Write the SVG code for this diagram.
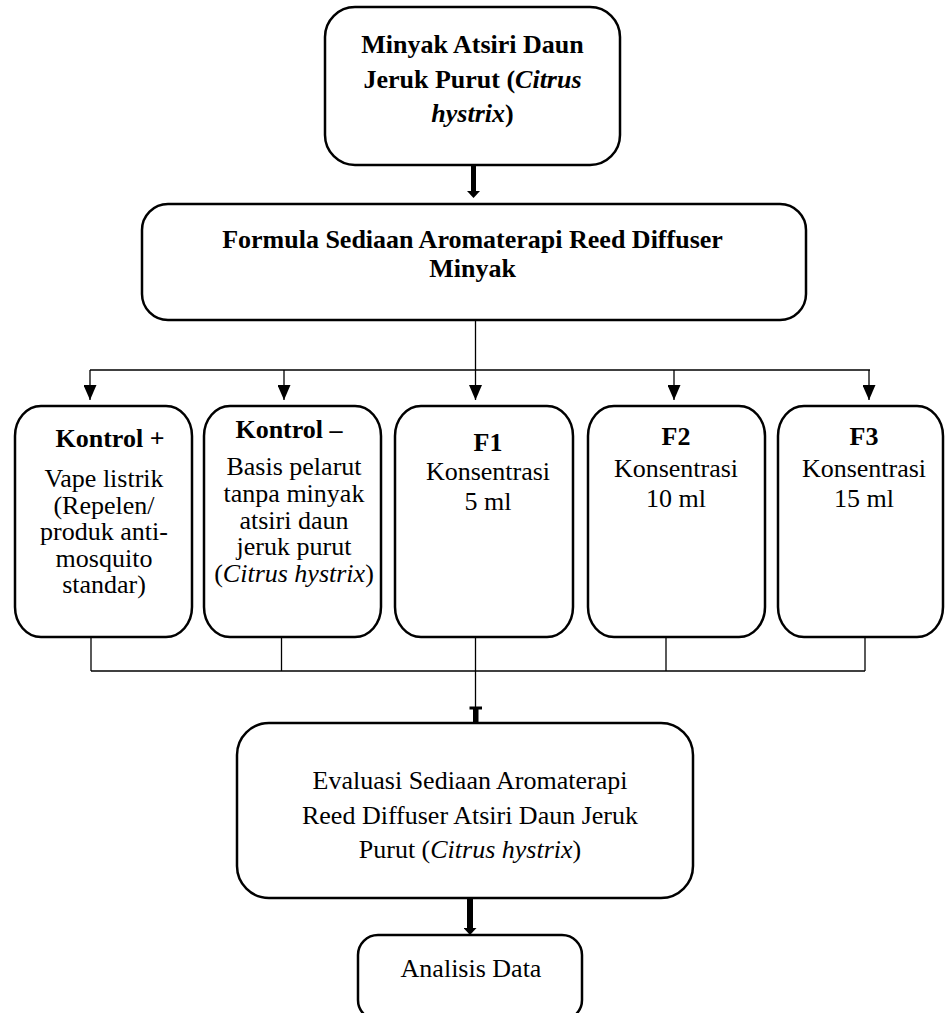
<svg xmlns="http://www.w3.org/2000/svg" width="945" height="1013" viewBox="0 0 945 1013">
<style>
.box{fill:#fff;stroke:#000;stroke-width:2.5}
.t{font-family:"Liberation Serif","Times New Roman",serif;font-size:26px;fill:#000;text-anchor:middle}
.b{font-weight:bold}
.i{font-style:italic}
.c{stroke:#000;stroke-width:1.3;fill:none}
.thick{stroke:#000;fill:none}
</style>
<defs>
<marker id="ah" markerUnits="userSpaceOnUse" markerWidth="15" markerHeight="13" viewBox="0 0 15 13" refX="15" refY="6.5" orient="auto">
<path d="M0,0 L15,6.5 L0,13 z" fill="#000"/>
</marker>
<marker id="hd" markerUnits="userSpaceOnUse" markerWidth="7" markerHeight="13" viewBox="0 0 7 13" refX="0" refY="6.5" orient="auto">
<path d="M0,0 L7,6.5 L0,13 z" fill="#000"/>
</marker>
</defs>
<rect width="945" height="1013" fill="#fff"/>

<g id="connectors">
<line class="thick" x1="473.5" y1="166" x2="473.5" y2="191" stroke-width="5" marker-end="url(#hd)"/>
<line class="c" x1="475.5" y1="321" x2="475.5" y2="370"/>
<line class="c" x1="90" y1="370" x2="870" y2="370"/>
<line class="c" x1="90" y1="370" x2="90" y2="400" marker-end="url(#ah)"/>
<line class="c" x1="284" y1="370" x2="284" y2="400" marker-end="url(#ah)"/>
<line class="c" x1="475.5" y1="370" x2="475.5" y2="400" marker-end="url(#ah)"/>
<line class="c" x1="674" y1="370" x2="674" y2="400" marker-end="url(#ah)"/>
<line class="c" x1="869" y1="370" x2="869" y2="400" marker-end="url(#ah)"/>
<line class="c" x1="91" y1="638" x2="91" y2="671"/>
<line class="c" x1="281.5" y1="638" x2="281.5" y2="671"/>
<line class="c" x1="475.5" y1="638" x2="475.5" y2="671"/>
<line class="c" x1="666" y1="638" x2="666" y2="671"/>
<line class="c" x1="865" y1="638" x2="865" y2="671"/>
<line class="c" x1="91" y1="671" x2="865" y2="671"/>
<line class="c" x1="475.5" y1="671" x2="475.5" y2="708"/>
<rect x="469.5" y="706.5" width="12.5" height="3" fill="#000"/>
<rect x="473" y="708" width="5.5" height="15" fill="#000"/>
<line class="thick" x1="470" y1="898" x2="470" y2="928" stroke-width="6" marker-end="url(#hd)"/>
</g>

<g id="n-minyak">
<rect class="box" x="325" y="7" width="295" height="158" rx="30" ry="30"/>
<text class="t b" x="472.5" y="53" font-size="26.5">Minyak Atsiri Daun</text>
<text class="t b" x="472.5" y="88" font-size="26.5">Jeruk Purut (<tspan class="i">Citrus</tspan></text>
<text class="t b" x="472.5" y="122" font-size="26.5"><tspan class="i">hystrix</tspan>)</text>
</g>

<g id="n-formula">
<rect class="box" x="142" y="204" width="664" height="116" rx="26" ry="26"/>
<text class="t b" x="472.5" y="248" font-size="26.3">Formula Sediaan Aromaterapi Reed Diffuser</text>
<text class="t b" x="472.5" y="277" font-size="26.3">Minyak</text>
</g>

<g id="n-kplus">
<rect class="box" x="15" y="406" width="177" height="231" rx="26" ry="30"/>
<text class="t b" x="110" y="447">Kontrol +</text>
<text class="t" x="104" y="487">Vape listrik</text>
<text class="t" x="104" y="513.5">(Repelen/</text>
<text class="t" x="104" y="540">produk anti-</text>
<text class="t" x="104" y="566.5">mosquito</text>
<text class="t" x="104" y="593">standar)</text>
</g>

<g id="n-kmin">
<rect class="box" x="204" y="406" width="177" height="231" rx="26" ry="30"/>
<text class="t b" x="289" y="438">Kontrol –</text>
<text class="t" x="294" y="475">Basis pelarut</text>
<text class="t" x="294" y="502">tanpa minyak</text>
<text class="t" x="294" y="528.5">atsiri daun</text>
<text class="t" x="294" y="555">jeruk purut</text>
<text class="t" x="294" y="582">(<tspan class="i">Citrus hystrix</tspan>)</text>
</g>

<g id="n-f1">
<rect class="box" x="395" y="406" width="178" height="231" rx="26" ry="30"/>
<text class="t b" x="488" y="450.5">F1</text>
<text class="t" x="488" y="480">Konsentrasi</text>
<text class="t" x="488" y="510">5 ml</text>
</g>

<g id="n-f2">
<rect class="box" x="588" y="406" width="177" height="231" rx="26" ry="30"/>
<text class="t b" x="676" y="445">F2</text>
<text class="t" x="676" y="477">Konsentrasi</text>
<text class="t" x="676" y="507">10 ml</text>
</g>

<g id="n-f3">
<rect class="box" x="778" y="406" width="165" height="231" rx="26" ry="30"/>
<text class="t b" x="864" y="445">F3</text>
<text class="t" x="864" y="477">Konsentrasi</text>
<text class="t" x="864" y="507">15 ml</text>
</g>

<g id="n-evaluasi">
<rect class="box" x="237" y="723" width="456" height="175" rx="32" ry="32"/>
<text class="t" x="470" y="789">Evaluasi Sediaan Aromaterapi</text>
<text class="t" x="470" y="823.5">Reed Diffuser Atsiri Daun Jeruk</text>
<text class="t" x="470" y="858">Purut (<tspan class="i">Citrus hystrix</tspan>)</text>
</g>

<g id="n-analisis">
<rect class="box" x="358" y="935" width="224" height="85" rx="20" ry="20"/>
<text class="t" x="471" y="977">Analisis Data</text>
</g>
</svg>
